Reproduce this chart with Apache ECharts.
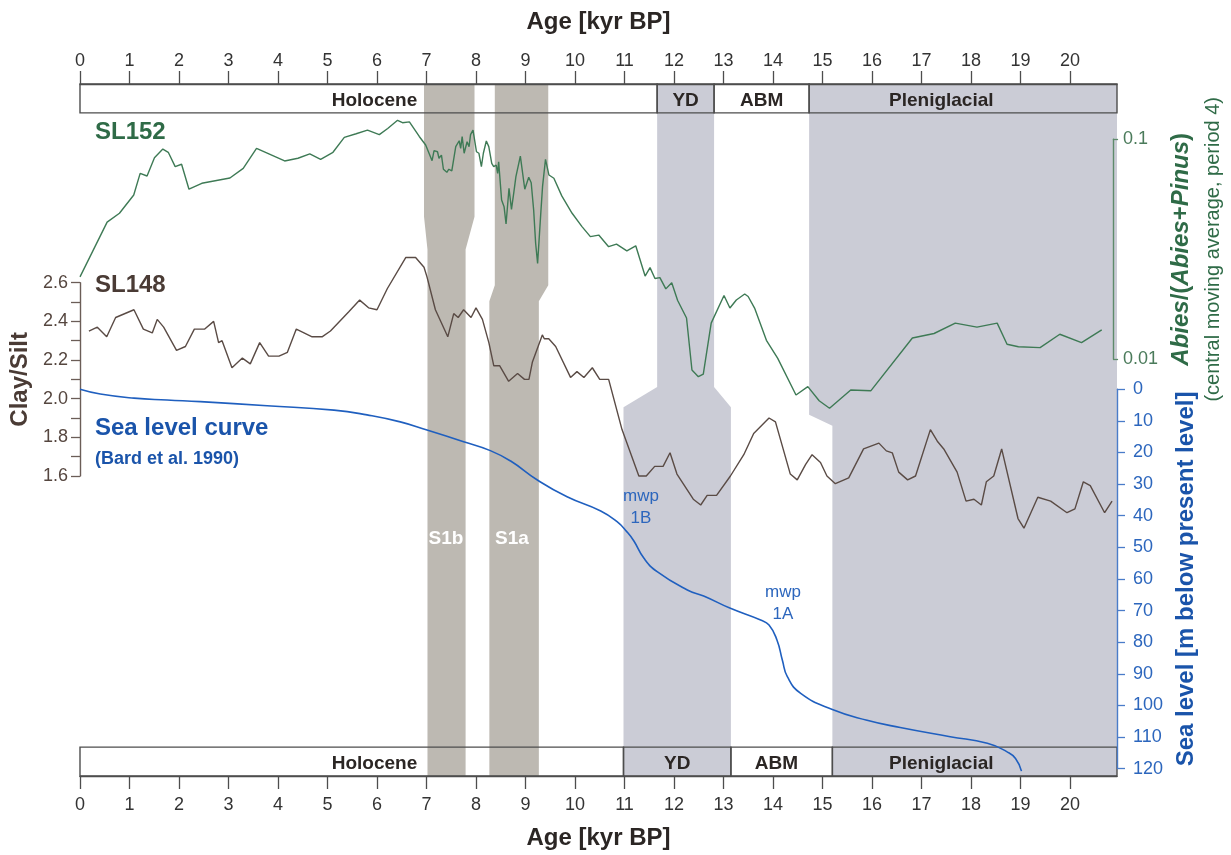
<!DOCTYPE html>
<html>
<head>
<meta charset="utf-8">
<title>SL152 / SL148 records and sea level, 0–21 kyr BP</title>
<script src="https://cdn.jsdelivr.net/npm/echarts@6/dist/echarts.min.js"></script>
<style>
  html, body { margin: 0; padding: 0; background: #ffffff; }
  #chart { width: 1231px; height: 855px; }
</style>
</head>
<body>
<div id="chart"></div>
<script>
// ---------------------------------------------------------------- data
const AGE_MAX = 20.95;
const ageTicks = [0, 1, 2, 3, 4, 5, 6, 7, 8, 9, 10, 11, 12, 13, 14, 15, 16, 17, 18, 19, 20];

// SL152: Abies/(Abies+Pinus), central moving average (period 4)
const sl152Age = [
  0.00, 0.55, 0.80, 1.09, 1.22, 1.36, 1.51, 1.68, 1.79, 1.93,
  2.06, 2.21, 2.47, 3.04, 3.31, 3.58, 4.15, 4.42, 4.66, 4.88,
  5.13, 5.36, 5.60, 5.83, 6.07, 6.24, 6.44, 6.54, 6.68, 6.88,
  7.01, 7.14, 7.18, 7.25, 7.28, 7.33, 7.37, 7.44, 7.48, 7.54,
  7.62, 7.69, 7.72, 7.75, 7.79, 7.85, 7.89, 7.92, 7.97, 8.04,
  8.09, 8.14, 8.18, 8.24, 8.29, 8.35, 8.39, 8.44, 8.47, 8.49,
  8.55, 8.58, 8.60, 8.64, 8.70, 8.75, 8.80, 8.84, 8.93, 9.02,
  9.10, 9.15, 9.20, 9.24, 9.28, 9.34, 9.38, 9.44, 9.51, 9.61,
  9.77, 9.98, 10.18, 10.35, 10.52, 10.72, 10.88, 11.09, 11.27, 11.46,
  11.56, 11.66, 11.76, 11.88, 12.00, 12.12, 12.30, 12.41, 12.54, 12.64,
  12.80, 13.06, 13.18, 13.31, 13.48, 13.55, 13.68, 13.92, 14.15, 14.52,
  14.76, 14.99, 15.20, 15.63, 16.04, 16.88, 17.32, 17.75, 18.19, 18.60,
  18.80, 19.03, 19.47, 19.87, 20.31, 20.72
];
const sl152Ratio = [
  0.0237, 0.0420, 0.0461, 0.0558, 0.0700, 0.0681, 0.0825, 0.0903, 0.0873, 0.0751,
  0.0770, 0.0593, 0.0631, 0.0667, 0.0738, 0.0910, 0.0797, 0.0820, 0.0858, 0.0811,
  0.0873, 0.102, 0.106, 0.110, 0.105, 0.112, 0.122, 0.119, 0.120, 0.103,
  0.0942, 0.0799, 0.0888, 0.0878, 0.0820, 0.0848, 0.0731, 0.0708, 0.0731, 0.0718,
  0.0926, 0.0985, 0.0910, 0.103, 0.0864, 0.0975, 0.0926, 0.105, 0.110, 0.0878,
  0.0864, 0.0751, 0.0864, 0.0982, 0.0926, 0.0778, 0.0751, 0.0764, 0.0700, 0.0791,
  0.0530, 0.0539, 0.0494, 0.0412, 0.0599, 0.0480, 0.0578, 0.0676, 0.0839, 0.0593,
  0.0672, 0.0635, 0.0477, 0.0337, 0.0273, 0.0445, 0.0609, 0.0811, 0.0688, 0.0665,
  0.0553, 0.0461, 0.0401, 0.0361, 0.0367, 0.0325, 0.0334, 0.0311, 0.0328, 0.0239,
  0.0261, 0.0233, 0.0235, 0.0209, 0.0223, 0.0185, 0.0154, 0.00894, 0.00834, 0.00857,
  0.0146, 0.0195, 0.0171, 0.0186, 0.0198, 0.0193, 0.0171, 0.0122, 0.0101, 0.00688,
  0.00751, 0.00648, 0.00599, 0.00725, 0.00720, 0.0125, 0.0131, 0.0146, 0.0140, 0.0146,
  0.0117, 0.0114, 0.0113, 0.0130, 0.0119, 0.0136
];

// SL148: clay/silt ratio
const sl148Age = [
  0.18, 0.35, 0.54, 0.72, 1.09, 1.28, 1.46, 1.56, 1.69, 1.95,
  2.13, 2.31, 2.52, 2.70, 2.80, 2.87, 3.07, 3.28, 3.44, 3.63,
  3.81, 4.02, 4.19, 4.37, 4.69, 4.89, 5.06, 5.43, 5.65, 5.83,
  6.00, 6.21, 6.58, 6.78, 6.95, 7.01, 7.18, 7.43, 7.55, 7.64,
  7.75, 7.90, 8.00, 8.13, 8.26, 8.36, 8.48, 8.66, 8.84, 8.98,
  9.07, 9.14, 9.34, 9.38, 9.47, 9.61, 9.91, 10.04, 10.18, 10.35,
  10.50, 10.68, 10.95, 11.29, 11.44, 11.61, 11.78, 11.92, 12.06, 12.39,
  12.54, 12.67, 12.86, 13.14, 13.41, 13.61, 13.92, 14.05, 14.35, 14.49,
  14.66, 14.79, 14.96, 15.09, 15.26, 15.53, 15.83, 16.14, 16.29, 16.41,
  16.54, 16.72, 16.88, 17.18, 17.32, 17.45, 17.72, 17.90, 18.06, 18.21,
  18.31, 18.46, 18.62, 18.95, 19.07, 19.35, 19.61, 19.94, 20.10, 20.27,
  20.41, 20.70, 20.85
];
const sl148ClaySilt = [
  2.35, 2.37, 2.32, 2.42, 2.46, 2.36, 2.34, 2.41, 2.37, 2.25,
  2.27, 2.36, 2.36, 2.40, 2.29, 2.30, 2.16, 2.21, 2.18, 2.29,
  2.22, 2.22, 2.24, 2.36, 2.32, 2.32, 2.35, 2.45, 2.51, 2.47,
  2.46, 2.57, 2.73, 2.73, 2.68, 2.63, 2.46, 2.32, 2.44, 2.42,
  2.46, 2.42, 2.47, 2.41, 2.29, 2.17, 2.17, 2.09, 2.13, 2.10,
  2.10, 2.19, 2.33, 2.31, 2.31, 2.27, 2.11, 2.14, 2.11, 2.16,
  2.10, 2.10, 1.84, 1.60, 1.60, 1.65, 1.65, 1.72, 1.61, 1.48,
  1.45, 1.50, 1.50, 1.60, 1.71, 1.82, 1.90, 1.88, 1.61, 1.58,
  1.66, 1.71, 1.67, 1.60, 1.56, 1.59, 1.74, 1.77, 1.73, 1.72,
  1.62, 1.58, 1.60, 1.84, 1.78, 1.74, 1.62, 1.47, 1.48, 1.45,
  1.57, 1.60, 1.74, 1.38, 1.33, 1.49, 1.47, 1.41, 1.43, 1.57,
  1.55, 1.41, 1.47
];

// Sea level curve (Bard et al. 1990), m below present level
const seaLevelAge = [
  0.00, 0.41, 1.09, 1.76, 2.43, 3.78, 5.13, 5.80, 6.47, 7.01,
  7.75, 8.29, 8.70, 9.24, 9.84, 10.52, 10.85, 11.05, 11.19, 11.39,
  11.66, 12.27, 12.60, 13.14, 13.75, 13.92, 14.08, 14.19, 14.29, 14.56,
  15.20, 15.90, 16.57, 17.58, 18.33, 18.73, 18.90, 19.02
];
const seaLevelDepth = [
  0, 1.5, 2.8, 3.4, 3.9, 5.2, 6.6, 8.1, 10.3, 12.9,
  16.6, 19.4, 22.7, 28.7, 34.0, 38.5, 41.9, 45.1, 48.0, 53.4,
  57.7, 63.5, 65.4, 69.3, 73.0, 74.6, 79.3, 85.7, 90.9, 96.2,
  101.3, 104.7, 107.0, 109.9, 112.0, 114.7, 116.8, 120.8
];

// Chronozones: upper bar (SL152 age model) and lower bar (SL148 age model)
const periodNames = ['Holocene', 'YD', 'ABM', 'Pleniglacial'];
const upperPeriodBounds = [0, 11.66, 12.81, 14.73, AGE_MAX];
const lowerPeriodBounds = [0, 10.98, 13.15, 15.20, AGE_MAX];

// Shaded intervals: sapropel S1b/S1a and cold phases, in both age models
const bandNames = ['S1b', 'S1a', 'YD', 'Pleniglacial'];
const bandUpperAges = [[6.95, 7.97], [8.38, 9.46], [11.66, 12.81], [14.73, AGE_MAX]];
const bandLowerAges = [[7.02, 7.79], [8.27, 9.27], [10.98, 13.15], [15.20, AGE_MAX]];

// ---------------------------------------------------------------- layout and style
const FONT = "'Liberation Sans', Arial, Helvetica, sans-serif";
const W = 1231, H = 855;
const PLOT_LEFT = 80, PLOT_RIGHT = W - 1117;
const FRAME_TOP = 84, FRAME_BOTTOM = H - 778;
const FRAME_H = H - FRAME_TOP - FRAME_BOTTOM;
const BAR_H = 29 / FRAME_H;                      // chronozone bar height (frame fraction)

// where each shaded interval shifts from the upper to the lower age model (frame fraction)
const bandSteps = { S1b: [0.808, 0.761], S1a: [0.709, 0.686], YD: [0.562, 0.533], Pleniglacial: [0.522, 0.506] };
const bandFill = { S1b: '#bdb9b2', S1a: '#bdb9b2', YD: '#cbccd6', Pleniglacial: '#cbccd6' };
// label anchor (kyr) inside the chronozone bars; others are centred
const periodLabelAt = { Holocene: 5.95, Pleniglacial: 17.4 };

const C = {
  frame: '#4d4d4d', tick: '#333333', title: '#2b2624',
  green: '#3e7a55', greenAxis: '#5e8b6b', greenText: '#2f6b47', greenLabel: '#4b7b5b',
  brown: '#5a4b45', brownAxis: '#6b5d57', brownText: '#4a3b35', brownLabel: '#55463f',
  blue: '#1f5fbf', blueAxis: '#4a7cc9', blueText: '#1a54aa', blueLabel: '#2c66bd'
};

const zip = (a, b) => a.map((v, i) => [v, b[i]]);

function periodItems(bounds, row) {
  return periodNames.map((n, i) => [bounds[i], bounds[i + 1], row, i]);
}

function renderPeriod(params, api) {
  const x0 = api.value(0), x1 = api.value(1), row = api.value(2), idx = api.value(3);
  const name = periodNames[idx];
  const yTop = row === 0 ? 1 : BAR_H;
  const p0 = api.coord([x0, yTop]);
  const p1 = api.coord([x1, yTop - BAR_H]);
  const lx = periodLabelAt[name] != null ? periodLabelAt[name]
    : (row === 1 && name === 'ABM' ? 14.07 : (x0 + x1) / 2);
  const pl = api.coord([lx, yTop - BAR_H / 2]);
  return {
    type: 'group',
    children: [
      { type: 'rect', shape: { x: p0[0], y: p0[1], width: p1[0] - p0[0], height: p1[1] - p0[1] },
        style: { fill: 'none', stroke: C.frame, lineWidth: 1.4 } },
      { type: 'text', x: pl[0], y: pl[1] + 2,
        style: { text: name, fill: C.title, fontFamily: FONT, fontSize: 19, fontWeight: 'bold',
                 align: 'center', verticalAlign: 'middle' } }
    ]
  };
}

function renderBand(params, api) {
  const i = params.dataIndex;
  const name = bandNames[i];
  const up = bandUpperAges[i], lo = bandLowerAges[i];
  const s = bandSteps[name];
  const P = (x, f) => api.coord([x, f]);
  return {
    type: 'polygon',
    shape: { points: [
      P(up[0], 1), P(up[1], 1), P(up[1], s[0]), P(lo[1], s[1]),
      P(lo[1], 0), P(lo[0], 0), P(lo[0], s[1]), P(up[0], s[0])
    ] },
    style: { fill: bandFill[name] }
  };
}

function ageAxis(position, margin) {
  return {
    type: 'value', gridIndex: 0, position, min: 0, max: AGE_MAX,
    name: 'Age [kyr BP]', nameLocation: 'middle', nameGap: 50,
    nameTextStyle: { fontFamily: FONT, fontSize: 24, fontWeight: 'bold', color: C.title },
    axisLine: { show: true, onZero: false, lineStyle: { color: C.frame, width: 1.4 } },
    axisTick: { show: true, length: 13, customValues: ageTicks, lineStyle: { color: C.frame, width: 1.3 } },
    axisLabel: { show: true, margin, customValues: ageTicks, fontFamily: FONT, fontSize: 18, color: C.tick,
                 formatter: v => String(v) },
    splitLine: { show: false },
    z: 6
  };
}

const hiddenAge = gridIndex => ({ type: 'value', gridIndex, min: 0, max: AGE_MAX, show: false,
                                  axisLine: { onZero: false } });

const txt = (text, x, y, size, weight, fill, extra) => ({
  type: 'text', x, y, z: 20,
  style: Object.assign({ text, fill, fontFamily: FONT, fontSize: size, fontWeight: weight,
                         align: 'left', verticalAlign: 'middle' }, extra || {})
});

const option = {
  animation: false,
  backgroundColor: '#ffffff',
  textStyle: { fontFamily: FONT },
  grid: [
    { left: PLOT_LEFT, right: PLOT_RIGHT, top: FRAME_TOP, bottom: FRAME_BOTTOM },   // frame + bars
    { left: PLOT_LEFT, right: PLOT_RIGHT, top: 139.3, height: 220 },               // SL152
    { left: PLOT_LEFT, right: PLOT_RIGHT, top: 282.7, height: 193.3 },             // SL148
    { left: PLOT_LEFT, right: PLOT_RIGHT, top: 389.3, height: 379.3 }              // sea level
  ],
  xAxis: [ageAxis('top', 14), ageAxis('bottom', 20), hiddenAge(1), hiddenAge(2), hiddenAge(3)],
  yAxis: [
    { type: 'value', gridIndex: 0, min: 0, max: 1, show: false, axisLine: { onZero: false } },
    {
      type: 'log', logBase: 10, gridIndex: 1, position: 'right', min: 0.01, max: 0.1,
      name: '{i|Abies}{b|/(}{i|Abies}{b|+}{i|Pinus}{b|)}\n{s|(central moving average, period 4)}',
      nameLocation: 'middle', nameRotate: 90, nameGap: 51,
      nameTextStyle: {
        rich: {
          i: { fontFamily: FONT, fontSize: 24, fontWeight: 'bold', fontStyle: 'italic', color: C.greenText, lineHeight: 26 },
          b: { fontFamily: FONT, fontSize: 24, fontWeight: 'bold', color: C.greenText, lineHeight: 26 },
          s: { fontFamily: FONT, fontSize: 20, fontWeight: 'normal', color: C.greenText, lineHeight: 38 }
        }
      },
      axisLine: { show: true, onZero: false, lineStyle: { color: C.greenAxis, width: 1.4 } },
      axisTick: { show: true, length: 5, lineStyle: { color: C.greenAxis, width: 1.3 } },
      axisLabel: { margin: 10, fontFamily: FONT, fontSize: 18, color: C.greenLabel,
                   formatter: v => String(+Number(v).toPrecision(3)) },
      splitLine: { show: false },
      z: 6
    },
    {
      type: 'value', gridIndex: 2, position: 'left', min: 1.6, max: 2.6, interval: 0.2,
      name: 'Clay/Silt', nameLocation: 'middle', nameRotate: 90, nameGap: 44,
      nameTextStyle: { fontFamily: FONT, fontSize: 24, fontWeight: 'bold', color: C.brownText },
      axisLine: { show: true, onZero: false, lineStyle: { color: C.brownAxis, width: 1.4 } },
      axisTick: { show: true, length: 9, lineStyle: { color: C.brownAxis, width: 1.3 } },
      minorTick: { show: true, splitNumber: 2, length: 9, lineStyle: { color: C.brownAxis, width: 1.3 } },
      axisLabel: { margin: 12, fontFamily: FONT, fontSize: 18, color: C.brownLabel,
                   formatter: v => Number(v).toFixed(1) },
      splitLine: { show: false }, minorSplitLine: { show: false },
      z: 6
    },
    {
      type: 'value', gridIndex: 3, position: 'right', min: 0, max: 120, interval: 10, inverse: true,
      name: 'Sea level [m below present level]', nameLocation: 'middle', nameRotate: 90, nameGap: 56,
      nameTextStyle: { fontFamily: FONT, fontSize: 24, fontWeight: 'bold', color: C.blueText },
      axisLine: { show: true, onZero: false, lineStyle: { color: C.blueAxis, width: 1.4 } },
      axisTick: { show: true, length: 8, lineStyle: { color: C.blueAxis, width: 1.3 } },
      axisLabel: { margin: 16, fontFamily: FONT, fontSize: 18, color: C.blueLabel },
      splitLine: { show: false },
      z: 6
    }
  ],
  series: [
    {
      type: 'custom', name: 'intervals', xAxisIndex: 0, yAxisIndex: 0, z: 1, silent: true,
      renderItem: renderBand,
      data: bandNames.map((n, i) => [bandUpperAges[i][0], bandUpperAges[i][1], bandLowerAges[i][0], bandLowerAges[i][1]])
    },
    {
      type: 'custom', name: 'chronozones', xAxisIndex: 0, yAxisIndex: 0, z: 4, silent: true,
      renderItem: renderPeriod,
      data: periodItems(upperPeriodBounds, 0).concat(periodItems(lowerPeriodBounds, 1))
    },
    {
      type: 'line', name: 'SL152', xAxisIndex: 2, yAxisIndex: 1, z: 8, clip: false,
      showSymbol: false, symbol: 'none',
      lineStyle: { color: C.green, width: 1.4 },
      data: zip(sl152Age, sl152Ratio)
    },
    {
      type: 'line', name: 'SL148', xAxisIndex: 3, yAxisIndex: 2, z: 8, clip: false,
      showSymbol: false, symbol: 'none',
      lineStyle: { color: C.brown, width: 1.4 },
      data: zip(sl148Age, sl148ClaySilt)
    },
    {
      type: 'line', name: 'Sea level', xAxisIndex: 4, yAxisIndex: 3, z: 8, clip: false,
      showSymbol: false, symbol: 'none', smooth: 0.5,
      lineStyle: { color: C.blue, width: 1.6 },
      data: zip(seaLevelAge, seaLevelDepth)
    }
  ],
  graphic: [
    txt('SL152', 95, 132, 24, 'bold', C.greenText),
    txt('SL148', 95, 285, 24, 'bold', C.brownText),
    txt('Sea level curve', 95, 428, 24, 'bold', C.blueText),
    txt('(Bard et al. 1990)', 95, 459, 18, 'bold', C.blueText),
    txt('S1b', 446, 538.5, 19, 'bold', '#ffffff', { align: 'center' }),
    txt('S1a', 512, 538.5, 19, 'bold', '#ffffff', { align: 'center' }),
    txt('mwp\n1B', 641, 507, 17, 'normal', C.blueLabel, { align: 'center', lineHeight: 22 }),
    txt('mwp\n1A', 783, 603, 17, 'normal', C.blueLabel, { align: 'center', lineHeight: 22 })
  ]
};

const chart = echarts.init(document.getElementById('chart'), null, { renderer: 'canvas', width: W, height: H });
chart.setOption(option);
</script>
</body>
</html>
